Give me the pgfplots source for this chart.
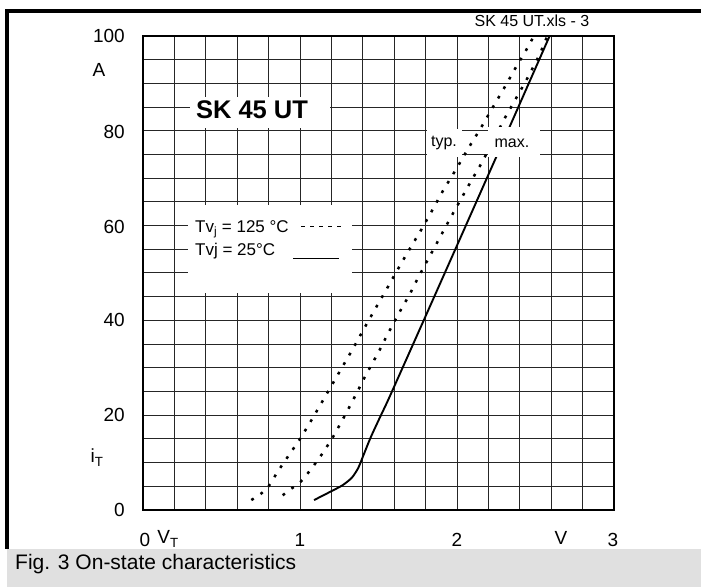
\documentclass[border=0pt]{standalone}
\usepackage{pgfplots}
\pgfplotsset{compat=1.18}
\usepackage{fontspec}
\setmainfont{Liberation Sans}
\newcommand{\fs}[1]{\fontsize{#1bp}{#1bp}\selectfont}

\begin{document}
\begin{tikzpicture}
\path[use as bounding box] (0,0) rectangle (701bp,587bp);

\begin{axis}[
  at={(143bp,77bp)}, anchor=south west,
  scale only axis, width=471bp, height=474bp,
  xmin=0, xmax=3, ymin=0, ymax=100,
  xtick={0,0.2,0.4,0.6,0.8,1,1.2,1.4,1.6,1.8,2,2.2,2.4,2.6,2.8,3},
  ytick={0,5,...,100},
  xticklabels={}, yticklabels={},
  major tick length=0pt,
  grid=major,
  grid style={black!85, line width=1bp},
  axis line style={line width=1.6bp},
]

% Tvj = 125 C, typ.
\addplot[black, line width=2.5bp, dash pattern=on 2.8bp off 8.2bp, smooth, tension=0.4] coordinates {
  (0.69,2.1) (0.75,3.4) (0.80,5.0) (0.86,8.2) (0.93,11.6) (1.00,15.0)
  (1.07,18.8) (1.13,22.2) (1.20,26.2) (1.27,30.2) (1.34,34.2) (1.40,37.8)
  (1.47,41.9) (1.55,46.5) (1.62,50.6) (1.69,54.6) (1.77,59.0) (1.84,63.1)
  (1.91,67.3) (2.00,72.2) (2.07,76.2) (2.15,80.5) (2.22,84.5) (2.30,89.0)
  (2.37,93.1) (2.44,97.0) (2.49,100)
};

% Tvj = 125 C, max.
\addplot[black, line width=2.5bp, dash pattern=on 2.8bp off 8.2bp, smooth, tension=0.4] coordinates {
  (0.89,3.1) (0.94,4.4) (1.00,5.8) (1.07,8.6) (1.14,11.8) (1.21,15.4)
  (1.29,20.2) (1.36,24.6) (1.42,28.5) (1.50,33.3) (1.56,37.2) (1.63,41.5)
  (1.70,45.6) (1.76,49.5) (1.87,56.2) (1.94,60.5) (2.00,64.1) (2.09,69.4)
  (2.16,73.4) (2.23,77.9) (2.30,82.4) (2.37,86.5) (2.45,91.2) (2.53,96.4)
  (2.575,100)
};

% Tvj = 25 C
\addplot[black, line width=1.9bp, smooth, tension=0.4] coordinates {
  (1.09,2.1) (1.19,3.8) (1.27,5.2) (1.33,6.8) (1.37,8.8) (1.40,11.2)
  (1.45,15.3) (1.51,19.6) (1.56,23.1) (1.66,30.5) (1.80,40.9) (2.00,55.8)
  (2.19,70.0) (2.34,81.2) (2.59,100)
};
\end{axis}

\begin{scope}[x=1bp, y=-1bp, shift={(0,587bp)}, every node/.style={inner sep=0pt}]
  % white boxes over the grid
  \fill[white] (190,97) rectangle (330,128);
  \node[anchor=base, font=\bfseries\fs{25.5}] at (252,118.5) {SK 45 UT};

  \fill[white] (188,205) rectangle (352,293);
  \node[anchor=base west, font=\fs{17}] at (195,233) {Tv\textsubscript{j} = 125 °C};
  \node[anchor=base west, font=\fs{17}] at (195,256) {Tvj = 25°C};
  \draw[line width=1bp, dash pattern=on 4bp off 5bp] (301,227) -- (346,227);
  \draw[line width=1bp] (293,259) -- (339,259);

  \fill[white] (427,129) rectangle (462,157);
  \node[font=\fs{16}] at (444,143) {typ.};
  \fill[white] (488,127) rectangle (540,157);
  \node[font=\fs{16}] at (512,143) {max.};

  % tick labels
  \foreach \y/\t in {36/100,132/80,227/60,320/40,415/20,510/0}
    \node[anchor=east, font=\fs{19}] at (125,\y) {\t};
  \foreach \x/\t in {145/0,300/1,457/2,613/3}
    \node[anchor=base, font=\fs{19}] at (\x,547) {\t};
  \node[anchor=base, font=\fs{19}] at (168,544) {V\textsubscript{T}};
  \node[anchor=base, font=\fs{19}] at (561,545) {V};
  \node[anchor=base, font=\fs{19}] at (99,77) {A};
  \node[anchor=base, font=\fs{19}] at (97,463) {i\textsubscript{T}};

  \node[anchor=base, font=\fs{16}] at (532,27) {SK 45 UT.xls - 3};

  % frame and caption bar
  \fill[black!12] (7,549) rectangle (701,587);
  \node[anchor=base west, font=\fs{21}] at (15,570) {Fig. 3 On-state characteristics};
  \draw[line width=4bp] (7,549) -- (7,11) -- (701,11);
\end{scope}
\end{tikzpicture}
\end{document}
